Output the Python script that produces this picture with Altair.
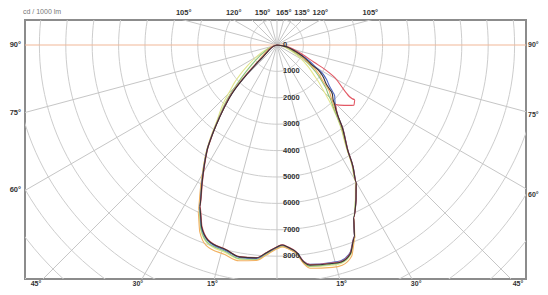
import altair as alt
import pandas as pd
import numpy as np

# ---- data (angle from nadir in degrees, right side positive; intensity in cd) ----
ANGLES = [-90, -70, -55, -50, -48.5, -46, -42, -38.5, -35, -33.5, -28.5, -25.5, -22.5, -19.5,
          -14, -10, -5.5, -3, 0, 1.5, 3, 5.5, 7, 8.5, 14, 16.5, 19.5, 22, 24, 27, 30, 32, 34,
          38, 42, 44.5, 46, 48.5, 50, 52, 55, 61, 63, 65, 70, 80, 90]

BLACK = [0, 150, 420, 680, 880, 1500, 2700, 3480, 4400, 4800, 5950, 6790, 7460, 7840,
         7990, 8150, 8100, 7890, 7650, 7580, 7660, 7910, 8280, 8430, 8530, 8570, 8360, 7840, 7140, 6590, 6000, 5430, 4780,
         4050, 3350, 3100, 2950, 2800, 2600, 2350, 2150, 1450, 1300, 1150, 800, 350, 0]
BLUE = [0, 160, 430, 700, 900, 1520, 2720, 3500, 4420, 4820, 5970, 6800, 7480, 7860,
        8020, 8170, 8120, 7900, 7660, 7590, 7670, 7900, 8250, 8400, 8490, 8520, 8320, 7820, 7130, 6600, 6010, 5450, 4800,
        4080, 3380, 3150, 3050, 2920, 2750, 2520, 2300, 1600, 1420, 1250, 850, 380, 0]
RED = [0, 170, 450, 700, 920, 1550, 2720, 3490, 4380, 4780, 5920, 6760, 7430, 7820,
       7980, 8140, 8090, 7880, 7640, 7570, 7650, 7900, 8260, 8410, 8510, 8550, 8340, 7830, 7150, 6600, 6010, 5440, 4800,
       4070, 3380, 3150, 3280, 3450, 3560, 3700, 3600, 2450, 2050, 1550, 1000, 450, 0]
GREEN = [0, 250, 950, 1450, 1650, 2050, 2900, 3560, 4420, 4830, 6000, 6850, 7530, 7920,
         8060, 8220, 8150, 7930, 7690, 7620, 7700, 7950, 8310, 8470, 8560, 8590, 8380, 7860, 7130, 6560, 5960, 5380, 4750,
         3950, 3200, 2900, 2700, 2480, 2300, 2100, 1800, 1250, 1080, 920, 600, 250, 0]
YELLOW = [0, 350, 1350, 1950, 2150, 2450, 3100, 3650, 4480, 4850, 6020, 6870, 7560, 7950,
          8100, 8240, 8170, 7950, 7710, 7640, 7710, 7960, 8320, 8490, 8600, 8620, 8400, 7860, 7120, 6540, 5940, 5350, 4700,
          3900, 3100, 2650, 2400, 2100, 1900, 1700, 1450, 1000, 850, 720, 450, 180, 0]
ORANGE = [0, 200, 600, 900, 1100, 1700, 2800, 3520, 4450, 4850, 6050, 6950, 7650, 8050,
          8180, 8300, 8200, 7980, 7720, 7650, 7720, 7980, 8350, 8550, 8680, 8700, 8480, 7900, 7150, 6580, 5980, 5400, 4760,
          4000, 3300, 3000, 2850, 2650, 2450, 2200, 1950, 1350, 1150, 1000, 700, 300, 0]

SERIES = {"yellow": YELLOW, "green": GREEN, "orange": ORANGE, "blue": BLUE, "red": RED, "black": BLACK}
SERIES_COLORS = {"yellow": "#e2e68e", "green": "#8cc47c", "orange": "#f2b060",
                 "blue": "#5068c4", "red": "#e25864", "black": "#3a3434"}

RING_VALUES = list(range(1000, 15000, 1000))
RING_LABELS = ["0", "1000", "2000", "3000", "4000", "5000", "6000", "7000", "8000"]
RING_LABEL_VALUES = [0, 1000, 2000, 3000, 4000, 5000, 6000, 7000, 8000]
RADIAL_ANGLES = [a for a in range(0, 360, 15) if a not in (90, 270)]

SIDE_ANGLES = [90, 75, 60]
BOTTOM_ANGLES = [45, 30, 15]
TOP_LEFT = [("105°", 105), ("120°", 120), ("150°", 150)]
TOP_RIGHT = [("165°", 165), ("135°", 135), ("120°", 120), ("105°", 105)]

# plot window in cd units (equal aspect, 26.4 px per 1000 cd)
XMIN, XMAX, YMIN, YMAX = -9545, 9432, -8864, 947
LABEL_XR, LABEL_YB = 9848, -9129   # where the angle rays meet the outer label band

xs = alt.Scale(domain=[XMIN, XMAX], nice=False, zero=False)
ys = alt.Scale(domain=[YMIN, YMAX], nice=False, zero=False)
X = lambda f: alt.X(f, type="quantitative", scale=xs, axis=None)
Y = lambda f: alt.Y(f, type="quantitative", scale=ys, axis=None)

# ---- grid rings ----
rows = []
for r in RING_VALUES:
    for t in range(0, 361, 2):
        rad = np.radians(t)
        rows.append({"r": r, "t": t, "x": r * np.sin(rad), "y": -r * np.cos(rad)})
rings = alt.Chart(pd.DataFrame(rows)).mark_line(clip=True, color="#cdcdcd", strokeWidth=1).encode(
    x=X("x"), y=Y("y"), detail="r:N", order="t:Q")

# ---- radial lines ----
rad_df = pd.DataFrame([{"x0": 0.0, "y0": 0.0,
                        "x1": 16000 * np.sin(np.radians(a)), "y1": -16000 * np.cos(np.radians(a))}
                       for a in RADIAL_ANGLES])
radials = alt.Chart(rad_df).mark_rule(clip=True, color="#c6c6c6", strokeWidth=1).encode(
    x=X("x0"), y=Y("y0"), x2="x1:Q", y2="y1:Q")

hline = alt.Chart(pd.DataFrame({"x0": [-16000], "x1": [16000], "y0": [0]})).mark_rule(
    clip=True, color="#f2b898", strokeWidth=1.2).encode(x=X("x0"), x2="x1:Q", y=Y("y0"))

# ---- curves ----
crow = []
for name, vals in SERIES.items():
    for i, (a, v) in enumerate(zip(ANGLES, vals)):
        crow.append({"series": name, "i": i, "angle": a, "cd": v})
curves = alt.Chart(pd.DataFrame(crow)).transform_calculate(
    x="datum.cd * sin(datum.angle * PI / 180)",
    y="-datum.cd * cos(datum.angle * PI / 180)"
).mark_line(clip=True, strokeWidth=1.1, interpolate="monotone").encode(
    x=X("x"), y=Y("y"),
    color=alt.Color("series:N", legend=None,
                    scale=alt.Scale(domain=list(SERIES_COLORS.keys()), range=list(SERIES_COLORS.values()))),
    detail="series:N", order="i:Q")

FONT = "Liberation Sans"
tstyle = dict(font=FONT, fontSize=7.5, fontWeight="bold", color="#333333")
sstyle = dict(font=FONT, fontSize=7, fontWeight="bold", color="#333333")

ring_lab = alt.Chart(pd.DataFrame({"x": [0] * len(RING_LABELS), "y": [-v for v in RING_LABEL_VALUES],
                                   "t": RING_LABELS})).mark_text(
    align="left", baseline="middle", dx=6, **tstyle).encode(x=X("x"), y=Y("y"), text="t:N")

left_lab = alt.Chart(pd.DataFrame({
    "x": [XMIN] * 3,
    "y": [XMIN * np.cos(np.radians(a)) / np.sin(np.radians(a)) for a in SIDE_ANGLES],
    "t": [f"{a}°" for a in SIDE_ANGLES]})).mark_text(
    align="right", baseline="middle", dx=-4, **tstyle).encode(x=X("x"), y=Y("y"), text="t:N")

right_lab = alt.Chart(pd.DataFrame({
    "x": [XMAX] * 3,
    "y": [-LABEL_XR * np.cos(np.radians(a)) / np.sin(np.radians(a)) for a in SIDE_ANGLES],
    "t": [f"{a}°" for a in SIDE_ANGLES]})).mark_text(
    align="left", baseline="middle", dx=2, **sstyle).encode(x=X("x"), y=Y("y"), text="t:N")

bx = [LABEL_YB * np.tan(np.radians(a)) for a in BOTTOM_ANGLES] + \
     [-LABEL_YB * np.tan(np.radians(a)) for a in BOTTOM_ANGLES[::-1]]
bt = [f"{a}°" for a in BOTTOM_ANGLES] + [f"{a}°" for a in BOTTOM_ANGLES[::-1]]
bottom_lab = alt.Chart(pd.DataFrame({"x": bx, "y": [YMIN] * 6, "t": bt})).mark_text(
    align="center", baseline="top", dy=1, **sstyle).encode(x=X("x"), y=Y("y"), text="t:N")

tx = [-YMAX * np.tan(np.radians(180 - a)) for _, a in TOP_LEFT] + \
     [YMAX * np.tan(np.radians(180 - a)) for _, a in TOP_RIGHT]
tt = [t for t, _ in TOP_LEFT] + [t for t, _ in TOP_RIGHT]
top_lab = alt.Chart(pd.DataFrame({"x": tx, "y": [YMAX] * len(tx), "t": tt})).mark_text(
    align="center", baseline="bottom", dy=-3, **tstyle).encode(x=X("x"), y=Y("y"), text="t:N")

corner = alt.Chart(pd.DataFrame({"x": [XMIN], "y": [YMAX], "t": ["cd / 1000 lm"]})).mark_text(
    align="left", baseline="bottom", dx=-2, dy=-5, font=FONT, fontSize=7, color="#777777").encode(
    x=X("x"), y=Y("y"), text="t:N")

# total: 17 + 501 + 14 = 532 wide, 12 + 259 + 8 = 279 tall (fits the 548x295 page with its 8px margins)
chart = alt.layer(rings, radials, hline, curves, ring_lab, left_lab, right_lab, bottom_lab, top_lab, corner).properties(
    width=501, height=259,
    autosize=alt.AutoSizeParams(type="none"),
    padding={"left": 17, "top": 12, "right": 14, "bottom": 8},
    background="white",
).configure_view(stroke="#8c8c8c", strokeWidth=2)

chart.save("out.html", embed_options={"renderer": "svg", "actions": False})
